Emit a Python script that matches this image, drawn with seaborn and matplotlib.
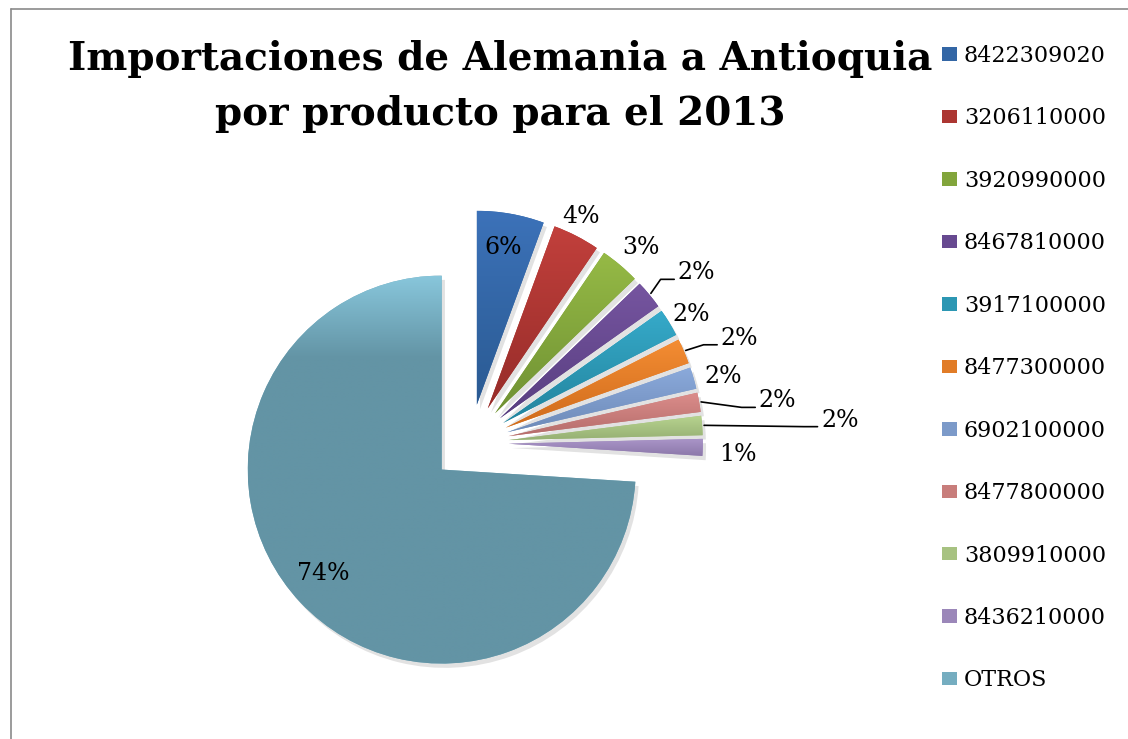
import numpy as np
import matplotlib
matplotlib.use('Agg')
import matplotlib.pyplot as plt
import seaborn as sns
from matplotlib.colors import LinearSegmentedColormap
from matplotlib.lines import Line2D

# datos
productos = ['8422309020', '3206110000', '3920990000', '8467810000', '3917100000',
             '8477300000', '6902100000', '8477800000', '3809910000', '8436210000', 'OTROS']
participacion = [5.6, 3.9, 3.3, 2.4, 2.3, 2.1, 1.8, 1.6, 1.6, 1.4, 74.0]
titulo = ['Importaciones de Alemania a Antioquia', 'por producto para el 2013']

# colores estilo Excel 2007 (parte de arriba clara, abajo oscura)
color_claro = ['#3C72B9', '#C2403C', '#96BA46', '#7655A0', '#36AACA', '#F48D33',
               '#8BAADB', '#DC8D8B', '#B8D490', '#AB96C9', '#88C6DB']
color_oscuro = ['#2A5A92', '#962C29', '#6F9133', '#583E80', '#23849D', '#CF6B1C',
                '#6D8AB8', '#B56D6B', '#96B073', '#8C78AA', '#6394A5']
corte_degradado = [1, 1, 1, 1, 1, 1, 1, 1, 1, 1, 0.21]

# posicion de las etiquetas (distancia al centro en radios, giro en grados) y lineas guia
dist_etiqueta = [1.02, 1.30, 1.34, 1.46, 1.32, 1.49, 1.35, 1.60, 1.91, 1.38, 1.01]
giro_etiqueta = [0.5, 1.0, -1.0, -2.7, -0.9, -2.0, -1.6, -2.3, -0.8, -1.3, -1.5]
con_guia = [False, False, False, True, False, True, False, True, True, False, False]

W, H = 1128, 739
R = 194.0              # radio del pastel en px
CX, CY = 470.0, 443.0  # centro en px (desde arriba a la izquierda)

sns.set_theme(style='white')
plt.rcParams['font.family'] = ['DejaVu Serif', 'DejaVu Sans']
plt.rcParams['text.color'] = 'black'

fig = plt.figure(figsize=(W / 100, H / 100), dpi=100)
fig.patch.set_facecolor('white')
ax = fig.add_axes([0, 0, 1, 1])

colores = [sns.blend_palette([a, b], 3)[1] for a, b in zip(color_claro, color_oscuro)]

cunas, _ = ax.pie(participacion, colors=colores, startangle=90, counterclock=False,
                  explode=[0.2] * len(participacion), radius=1,
                  wedgeprops=dict(linewidth=0),
                  shadow={'ox': 0.012, 'oy': -0.016, 'facecolor': '#a0a0a0',
                          'edgecolor': 'none', 'alpha': 0.3})

# relleno con degradado vertical dentro de cada porcion
grad = np.linspace(0, 1, 256)[:, None]
for cuna, c1, c2, corte in zip(cunas, color_claro, color_oscuro, corte_degradado):
    ext = cuna.get_path().get_extents()
    cmap = LinearSegmentedColormap.from_list('g', [(0, c1), (corte, c2), (1, c2)])
    im = ax.imshow(grad, cmap=cmap, extent=(ext.x0, ext.x1, ext.y0, ext.y1),
                   origin='upper', aspect='auto', zorder=cuna.get_zorder() + 0.1,
                   interpolation='bilinear')
    im.set_clip_path(cuna)

# etiquetas de porcentaje
for cuna, v, d, g, guia in zip(cunas, participacion, dist_etiqueta, giro_etiqueta, con_guia):
    medio = (cuna.theta1 + cuna.theta2) / 2
    ang = np.deg2rad(medio + g)
    lx, ly = d * np.cos(ang), d * np.sin(ang)
    ax.text(lx, ly, f'{v:.0f}%', ha='center', va='center', fontsize=17,
            color='black', zorder=10)
    if guia:
        a0 = np.deg2rad(medio)
        x0, y0 = 1.21 * np.cos(a0), 1.21 * np.sin(a0)
        xe, ye = lx - 0.115, ly - 0.033
        xc = xe - 0.07
        ax.plot([x0, xc, xe], [y0, ye, ye], color='black', lw=1.2, zorder=9)

ax.set_xlim(-CX / R, (W - CX) / R)
ax.set_ylim(-(H - CY) / R, CY / R)
ax.set_aspect('auto')
ax.axis('off')

# titulo
fig.text(500 / W, 1 - 70 / H, titulo[0], ha='center', va='baseline',
         fontsize=28, fontweight='bold', color='black')
fig.text(500 / W, 1 - 125 / H, titulo[1], ha='center', va='baseline',
         fontsize=28, fontweight='bold', color='black')

# leyenda
ax.legend(cunas, productos, loc='upper left', bbox_to_anchor=(942 / W, 1 - 45 / H),
          bbox_transform=fig.transFigure, frameon=False, fontsize=16,
          handlelength=0.68, handleheight=0.55, handletextpad=0.3,
          labelspacing=1.82, borderpad=0, borderaxespad=0, labelcolor='black')

# marco del area del grafico
fig.add_artist(Line2D([10.5 / W, 10.5 / W], [0, 1 - 8.5 / H], transform=fig.transFigure,
                      color='#8a8a8a', lw=1.2))
fig.add_artist(Line2D([10.5 / W, 1], [1 - 8.5 / H, 1 - 8.5 / H], transform=fig.transFigure,
                      color='#8a8a8a', lw=1.2))

fig.savefig('out.png', dpi=100)
